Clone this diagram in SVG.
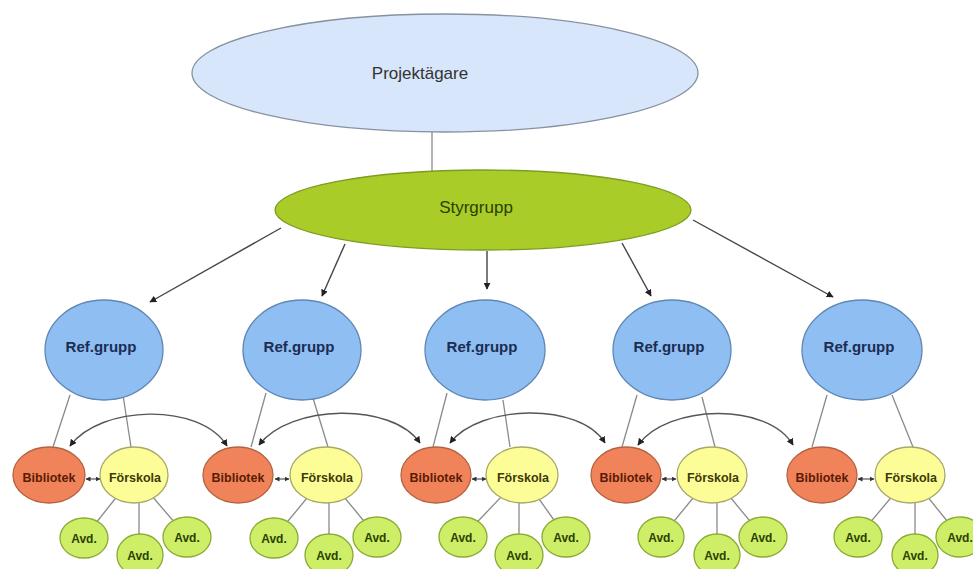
<svg xmlns="http://www.w3.org/2000/svg" width="973" height="569" viewBox="0 0 973 569">
<defs>
<marker id="ah" viewBox="0 0 10 10" refX="9" refY="5" markerWidth="7" markerHeight="7" orient="auto-start-reverse" markerUnits="userSpaceOnUse">
<path d="M0,0 L10,5 L0,10 z" fill="#222"/>
</marker>
<marker id="sm" viewBox="0 0 10 10" refX="9" refY="5" markerWidth="5" markerHeight="5" orient="auto-start-reverse" markerUnits="userSpaceOnUse">
<path d="M0,0 L10,5 L0,10 z" fill="#333"/>
</marker>
</defs>
<style>
text{font-family:"Liberation Sans",Arial,sans-serif;text-anchor:middle}
.line{stroke:#8a8a8a;stroke-width:1.3;fill:none}
.arr{stroke:#444;stroke-width:1.4;fill:none;marker-end:url(#ah)}
.arc{stroke:#555;stroke-width:1.4;fill:none;marker-start:url(#ah);marker-end:url(#ah)}
.dbl{stroke:#555;stroke-width:1.2;fill:none;marker-start:url(#sm);marker-end:url(#sm)}
.proj{fill:#d7e6fa;stroke:#8692a0;stroke-width:1.3}
.styr{fill:#a9cc29;stroke:#7c9c22;stroke-width:1.3}
.ref{fill:#8ebef2;stroke:#5f86b4;stroke-width:1.3}
.bib{fill:#f0835a;stroke:#b56242;stroke-width:1.3}
.fors{fill:#fdfd98;stroke:#a8a868;stroke-width:1.3}
.avd{fill:#cdee66;stroke:#8aaa34;stroke-width:1.3}
.tref{font-size:15px;font-weight:bold;fill:#1b2d52}
.tbib{font-size:12.5px;font-weight:bold;fill:#5a1c04}
.tfors{font-size:12.5px;font-weight:bold;fill:#3c3a08}
.tavd{font-size:12px;font-weight:bold;fill:#2c4204}
</style>
<rect width="973" height="569" fill="#ffffff"/>
<g id="connectors">
<line class="line" x1="432" y1="132" x2="432" y2="172"/>
<line class="arr" x1="281" y1="228" x2="150" y2="302"/>
<line class="arr" x1="345" y1="244" x2="322" y2="296"/>
<line class="arr" x1="487" y1="251" x2="487" y2="289"/>
<line class="arr" x1="622" y1="243" x2="651" y2="296"/>
<line class="arr" x1="693" y1="220" x2="833" y2="297"/>
<line class="line" x1="70" y1="395" x2="53" y2="447"/>
<line class="line" x1="123" y1="395" x2="131" y2="447"/>
<line class="line" x1="266" y1="393" x2="251" y2="447"/>
<line class="line" x1="313" y1="398" x2="328" y2="447"/>
<line class="line" x1="447" y1="393" x2="433" y2="447"/>
<line class="line" x1="503" y1="400" x2="510" y2="447"/>
<line class="line" x1="637" y1="395" x2="622" y2="447"/>
<line class="line" x1="702" y1="397" x2="715" y2="447"/>
<line class="line" x1="827" y1="395" x2="812" y2="447"/>
<line class="line" x1="892" y1="395" x2="913" y2="447"/>
<path class="arc" d="M70,446 C100,405 200,402 227,446"/>
<path class="arc" d="M259,445 C290,404 392,402 420,443"/>
<path class="arc" d="M450,443 C480,404 580,402 605,443"/>
<path class="arc" d="M638,445 C668,404 768,402 793,445"/>
<line class="dbl" x1="86" y1="479" x2="100" y2="479"/>
<line class="dbl" x1="275" y1="479" x2="289" y2="479"/>
<line class="dbl" x1="472" y1="479" x2="486" y2="479"/>
<line class="dbl" x1="662" y1="479" x2="676" y2="479"/>
<line class="dbl" x1="858" y1="479" x2="874" y2="479"/>
<line class="line" x1="134" y1="475" x2="84" y2="538"/>
<line class="line" x1="139" y1="475" x2="139" y2="555"/>
<line class="line" x1="134" y1="475" x2="187" y2="537"/>
<line class="line" x1="326" y1="475" x2="274" y2="538"/>
<line class="line" x1="329" y1="475" x2="329" y2="555"/>
<line class="line" x1="326" y1="475" x2="377" y2="537"/>
<line class="line" x1="522" y1="475" x2="463" y2="537"/>
<line class="line" x1="519" y1="475" x2="519" y2="555"/>
<line class="line" x1="522" y1="475" x2="566" y2="537"/>
<line class="line" x1="712" y1="475" x2="661" y2="537"/>
<line class="line" x1="717" y1="475" x2="717" y2="555"/>
<line class="line" x1="712" y1="475" x2="763" y2="537"/>
<line class="line" x1="910" y1="475" x2="858" y2="537"/>
<line class="line" x1="915" y1="475" x2="915" y2="555"/>
<line class="line" x1="910" y1="475" x2="960" y2="537"/>
</g>
<g id="projektagare"><ellipse class="proj" cx="445" cy="73" rx="253" ry="59"/><text x="420" y="79" font-size="17" fill="#333">Projektägare</text></g>
<g id="styrgrupp"><ellipse class="styr" cx="483" cy="210" rx="208" ry="40"/><text x="476" y="213" font-size="17" fill="#2a4200">Styrgrupp</text></g>
<g id="ref1"><ellipse class="ref" cx="104" cy="350" rx="59" ry="50"/><text class="tref" x="101" y="352">Ref.grupp</text></g>
<g id="ref2"><ellipse class="ref" cx="302" cy="350" rx="59" ry="50"/><text class="tref" x="299" y="352">Ref.grupp</text></g>
<g id="ref3"><ellipse class="ref" cx="485" cy="350" rx="60" ry="50"/><text class="tref" x="482" y="352">Ref.grupp</text></g>
<g id="ref4"><ellipse class="ref" cx="672" cy="350" rx="59" ry="50"/><text class="tref" x="669" y="352">Ref.grupp</text></g>
<g id="ref5"><ellipse class="ref" cx="862" cy="350" rx="60" ry="50"/><text class="tref" x="859" y="352">Ref.grupp</text></g>
<g id="bib1"><ellipse class="bib" cx="49" cy="475" rx="36" ry="28"/><text class="tbib" x="49" y="482">Bibliotek</text></g>
<g id="bib2"><ellipse class="bib" cx="238" cy="475" rx="35" ry="28"/><text class="tbib" x="238" y="482">Bibliotek</text></g>
<g id="bib3"><ellipse class="bib" cx="436" cy="475" rx="35" ry="28"/><text class="tbib" x="436" y="482">Bibliotek</text></g>
<g id="bib4"><ellipse class="bib" cx="626" cy="475" rx="35" ry="28"/><text class="tbib" x="626" y="482">Bibliotek</text></g>
<g id="bib5"><ellipse class="bib" cx="822" cy="475" rx="35" ry="28"/><text class="tbib" x="822" y="482">Bibliotek</text></g>
<g id="fors1"><ellipse class="fors" cx="134" cy="475" rx="34" ry="28"/><text class="tfors" x="135" y="482">Förskola</text></g>
<g id="fors2"><ellipse class="fors" cx="326" cy="475" rx="36" ry="28"/><text class="tfors" x="327" y="482">Förskola</text></g>
<g id="fors3"><ellipse class="fors" cx="522" cy="475" rx="36" ry="28"/><text class="tfors" x="523" y="482">Förskola</text></g>
<g id="fors4"><ellipse class="fors" cx="712" cy="475" rx="35" ry="28"/><text class="tfors" x="713" y="482">Förskola</text></g>
<g id="fors5"><ellipse class="fors" cx="910" cy="475" rx="35" ry="28"/><text class="tfors" x="911" y="482">Förskola</text></g>
<g id="avd1a"><ellipse class="avd" cx="84" cy="538" rx="24" ry="20"/><text class="tavd" x="84" y="543">Avd.</text></g>
<g id="avd1b"><ellipse class="avd" cx="140" cy="555" rx="23" ry="21"/><text class="tavd" x="140" y="560">Avd.</text></g>
<g id="avd1c"><ellipse class="avd" cx="187" cy="537" rx="24" ry="20"/><text class="tavd" x="187" y="542">Avd.</text></g>
<g id="avd2a"><ellipse class="avd" cx="274" cy="538" rx="24" ry="20"/><text class="tavd" x="274" y="543">Avd.</text></g>
<g id="avd2b"><ellipse class="avd" cx="329" cy="555" rx="24" ry="21"/><text class="tavd" x="329" y="560">Avd.</text></g>
<g id="avd2c"><ellipse class="avd" cx="377" cy="537" rx="24" ry="20"/><text class="tavd" x="377" y="542">Avd.</text></g>
<g id="avd3a"><ellipse class="avd" cx="463" cy="537" rx="24" ry="20"/><text class="tavd" x="463" y="542">Avd.</text></g>
<g id="avd3b"><ellipse class="avd" cx="519" cy="555" rx="24" ry="21"/><text class="tavd" x="519" y="560">Avd.</text></g>
<g id="avd3c"><ellipse class="avd" cx="566" cy="537" rx="24" ry="20"/><text class="tavd" x="566" y="542">Avd.</text></g>
<g id="avd4a"><ellipse class="avd" cx="661" cy="537" rx="23" ry="20"/><text class="tavd" x="661" y="542">Avd.</text></g>
<g id="avd4b"><ellipse class="avd" cx="717" cy="555" rx="23" ry="21"/><text class="tavd" x="717" y="560">Avd.</text></g>
<g id="avd4c"><ellipse class="avd" cx="763" cy="537" rx="24" ry="20"/><text class="tavd" x="763" y="542">Avd.</text></g>
<g id="avd5a"><ellipse class="avd" cx="858" cy="537" rx="24" ry="20"/><text class="tavd" x="858" y="542">Avd.</text></g>
<g id="avd5b"><ellipse class="avd" cx="915" cy="555" rx="23" ry="21"/><text class="tavd" x="915" y="560">Avd.</text></g>
<g id="avd5c"><ellipse class="avd" cx="960" cy="537" rx="24" ry="20"/><text class="tavd" x="960" y="542">Avd.</text></g>
</svg>
